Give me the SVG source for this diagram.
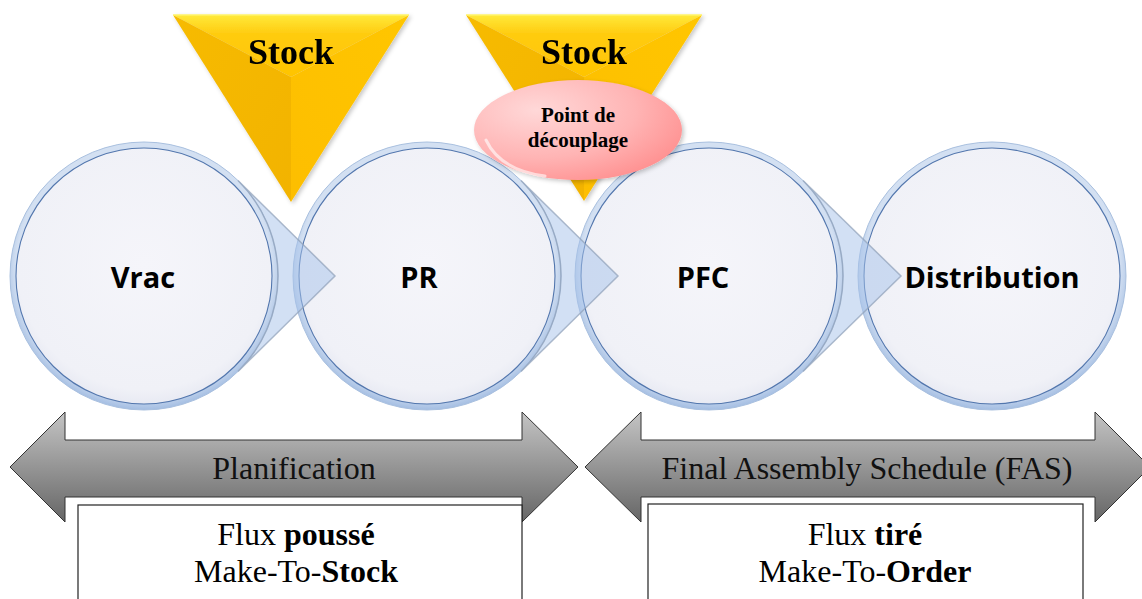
<svg xmlns="http://www.w3.org/2000/svg" width="1142" height="599" viewBox="0 0 1142 599">
<defs>
<style>
.ring{fill:url(#ringG);stroke:#a9c0df;stroke-width:1}
.disc{fill:url(#discG);stroke:#5276ad;stroke-width:1.1}
.lbl{font-family:"Open Sans","DejaVu Sans",sans-serif;font-weight:bold;font-size:29px;fill:#000;text-anchor:middle}
.ptr{fill:#a6c2ea;fill-opacity:0.5;stroke:#8f9fb8;stroke-opacity:0.7;stroke-width:1.5}
.stock{font-family:"Liberation Serif","Times New Roman",serif;font-weight:bold;font-size:36px;fill:#000;text-anchor:middle}
.pdc{font-family:"Liberation Serif","Times New Roman",serif;font-weight:bold;font-size:21px;fill:#000;text-anchor:middle}
.arr{fill:url(#arrG);stroke:#333;stroke-width:1}
.atx{font-family:"Liberation Serif","Times New Roman",serif;font-size:32px;fill:#111;text-anchor:middle}
.box{fill:#fff;stroke:#222;stroke-width:1.2}
.btx{font-family:"Liberation Serif","Times New Roman",serif;font-size:32px;fill:#000;text-anchor:middle}
</style>
<radialGradient id="ringG" cx="0.5" cy="0.47" r="0.53">
<stop offset="0.9" stop-color="#d3e0f2"/>
<stop offset="1" stop-color="#a3bde2"/>
</radialGradient>
<radialGradient id="discG" cx="0.5" cy="0.45" r="0.55">
<stop offset="0" stop-color="#f5f5fa"/>
<stop offset="0.9" stop-color="#f0f1f7"/>
<stop offset="1" stop-color="#e8eaf3"/>
</radialGradient>
<linearGradient id="topF" x1="0" y1="0" x2="0" y2="1">
<stop offset="0" stop-color="#ffe93a"/>
<stop offset="0.3" stop-color="#ffcc10"/>
<stop offset="1" stop-color="#ffc400"/>
</linearGradient>
<linearGradient id="leftF" x1="0" y1="0" x2="1" y2="1">
<stop offset="0" stop-color="#f7bb00"/>
<stop offset="1" stop-color="#f2b300"/>
</linearGradient>
<linearGradient id="rightF" x1="1" y1="0" x2="0" y2="1">
<stop offset="0" stop-color="#ffc600"/>
<stop offset="1" stop-color="#fdbe00"/>
</linearGradient>
<radialGradient id="pinkG" cx="0.3" cy="0.3" r="0.8">
<stop offset="0" stop-color="#ffd8d8"/>
<stop offset="0.6" stop-color="#ffb4b4"/>
<stop offset="1" stop-color="#ff9090"/>
</radialGradient>
<linearGradient id="arrG" x1="0" y1="0" x2="0" y2="1">
<stop offset="0" stop-color="#c4c4c4"/>
<stop offset="0.5" stop-color="#959595"/>
<stop offset="1" stop-color="#666"/>
</linearGradient>
<filter id="sh" x="-10%" y="-10%" width="130%" height="130%">
<feDropShadow dx="2" dy="2" stdDeviation="2" flood-color="#000" flood-opacity="0.22"/>
</filter>
</defs>
<rect width="1142" height="599" fill="#fff"/>

<g id="node-vrac">
<circle class="ring" cx="144" cy="276" r="134"/>
<circle class="disc" cx="144" cy="276" r="128"/>
<text class="lbl" x="143" y="288">Vrac</text>
</g>
<g id="node-pr">
<circle class="ring" cx="427" cy="276" r="134"/>
<circle class="disc" cx="427" cy="276" r="128"/>
<text class="lbl" x="419" y="288">PR</text>
</g>
<g id="node-pfc">
<circle class="ring" cx="709" cy="276" r="134"/>
<circle class="disc" cx="709" cy="276" r="128"/>
<text class="lbl" x="703" y="288">PFC</text>
</g>
<g id="node-distribution">
<circle class="ring" cx="992" cy="276" r="134"/>
<circle class="disc" cx="992" cy="276" r="128"/>
<text class="lbl" x="992" y="288">Distribution</text>
</g>

<g id="connectors">
<path class="ptr" d="M238 180.5 L335 276 L238 371.5 A134 134 0 0 0 238 180.5 Z"/>
<path class="ptr" d="M521 180.5 L618 276 L521 371.5 A134 134 0 0 0 521 180.5 Z"/>
<path class="ptr" d="M803 180.5 L901 276 L803 371.5 A134 134 0 0 0 803 180.5 Z"/>
</g>

<g id="node-stock1" filter="url(#sh)">
<path d="M173 15 L409 15 L291 77 Z" fill="url(#topF)"/>
<path d="M173 15 L291 77 L291 202 Z" fill="url(#leftF)"/>
<path d="M409 15 L291 77 L291 202 Z" fill="url(#rightF)"/>
<line x1="173" y1="15" x2="409" y2="15" stroke="#fff36a" stroke-width="1.5"/>
<text class="stock" x="291" y="64">Stock</text>
</g>
<g id="node-stock2" filter="url(#sh)">
<path d="M466 15 L702 15 L584 77 Z" fill="url(#topF)"/>
<path d="M466 15 L584 77 L584 201 Z" fill="url(#leftF)"/>
<path d="M702 15 L584 77 L584 201 Z" fill="url(#rightF)"/>
<line x1="466" y1="15" x2="702" y2="15" stroke="#fff36a" stroke-width="1.5"/>
<text class="stock" x="584" y="64">Stock</text>
</g>

<g id="node-decouplage">
<ellipse cx="578" cy="130" rx="104" ry="50" fill="url(#pinkG)" filter="url(#sh)"/>
<path d="M486 140 Q500 170 545 176" fill="none" stroke="#fff" stroke-opacity="0.6" stroke-width="3" stroke-linecap="round"/>
<text class="pdc" x="578" y="122">Point de</text>
<text class="pdc" x="578" y="147">découplage</text>
</g>

<g id="node-planification">
<path class="arr" d="M10 467 L65 412 L65 440 L522 440 L522 412 L578 467 L522 522 L522 497 L65 497 L65 522 Z"/>
<text class="atx" x="294" y="479">Planification</text>
</g>
<g id="node-fas">
<path class="arr" d="M585 467 L641 412 L641 440 L1095 440 L1095 412 L1150 467 L1095 522 L1095 497 L641 497 L641 522 Z"/>
<text class="atx" x="867" y="479">Final Assembly Schedule (FAS)</text>
</g>

<g id="node-pousse">
<rect class="box" x="78" y="505" width="444" height="110"/>
<text class="btx" x="296" y="545">Flux <tspan font-weight="bold">poussé</tspan></text>
<text class="btx" x="296" y="582">Make-To-<tspan font-weight="bold">Stock</tspan></text>
</g>
<g id="node-tire">
<rect class="box" x="648" y="504" width="435" height="110"/>
<text class="btx" x="865" y="545">Flux <tspan font-weight="bold">tiré</tspan></text>
<text class="btx" x="865" y="582">Make-To-<tspan font-weight="bold">Order</tspan></text>
</g>
</svg>
